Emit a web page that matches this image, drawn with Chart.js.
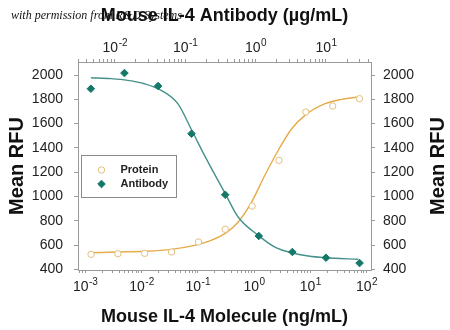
<!DOCTYPE html>
<html>
<head>
<meta charset="utf-8">
<script src="https://cdn.jsdelivr.net/npm/chart.js@4"></script>
<style>
  html, body { margin: 0; padding: 0; background: #fff; }
  #wrap { width: 450px; height: 330px; }
</style>
</head>
<body>
<div id="wrap"><canvas id="chart" width="450" height="330"></canvas></div>
<script>
// measured points
const proteinConc = [0.00127, 0.00381, 0.0114, 0.0343, 0.103, 0.309, 0.926, 2.78, 8.33, 25, 75];
const proteinRFU = [525, 530, 533, 544, 626, 731, 922, 1298, 1696, 1745, 1805];
const antibodyConc = [0.00457, 0.0137, 0.0412, 0.123, 0.370, 1.11, 3.33, 10, 30];
const antibodyRFU = [1887, 2016, 1909, 1517, 1015, 676, 544, 497, 453];

// fitted curves
const proteinFitConc = [0.00127, 0.00378, 0.0113, 0.0336, 0.0877, 0.173, 0.323, 0.524, 0.906, 1.56, 2.70, 4.67, 8.05, 18.3, 36.2, 71.5];
const proteinFitRFU = [538, 544, 550, 566, 599, 640, 703, 791, 955, 1175, 1381, 1558, 1668, 1764, 1800, 1819];
const antibodyFitConc = [0.00458, 0.00883, 0.0152, 0.0264, 0.0454, 0.0785, 0.121, 0.188, 0.366, 0.565, 1.09, 1.88, 3.25, 5.6, 9.7, 28.8];
const antibodyFitRFU = [1978, 1970, 1956, 1928, 1874, 1764, 1558, 1339, 1030, 832, 681, 585, 538, 511, 497, 484];

// tick labels
const rfuTicks = [400, 600, 800, 1000, 1200, 1400, 1600, 1800, 2000];
const ngExponents = [-3, -2, -1, 0, 1, 2];
const ugExponents = [-2, -1, 0, 1];

const PROTEIN_LINE = '#e7ab48';
const PROTEIN_PT = '#e2c07e';
const AB_LINE = '#45918b';
const AB_PT = '#147868';
const AXIS = '#9a9a9a';
const FONT = "'Liberation Sans', Arial, sans-serif";

const toXY = (xs, ys) => xs.map((x, i) => ({ x: x, y: ys[i] }));

function logTicks(scale) {
    const ticks = [];
    const lo = Math.floor(Math.log10(scale.min));
    const hi = Math.ceil(Math.log10(scale.max));
    for (let e = lo; e <= hi; e++) {
        for (let m = 1; m < 10; m++) {
            const v = m * Math.pow(10, e);
            if (v >= scale.min && v <= scale.max) ticks.push({ value: v, major: m === 1 });
        }
    }
    scale.ticks = ticks;
}

function drawPowerLabels(ctx, scale, exps, cy) {
    ctx.save();
    ctx.fillStyle = '#222';
    ctx.textBaseline = 'middle';
    ctx.textAlign = 'left';
    exps.forEach(e => {
        const px = scale.getPixelForValue(Math.pow(10, e));
        const exp = e < 0 ? '-' + (-e) : String(e);
        ctx.font = '14px ' + FONT;
        const wb = ctx.measureText('10').width;
        ctx.font = '10px ' + FONT;
        const we = ctx.measureText(exp).width;
        const x0 = px - (wb + we) / 2;
        ctx.font = '14px ' + FONT;
        ctx.fillText('10', x0, cy);
        ctx.font = '10px ' + FONT;
        ctx.fillText(exp, x0 + wb + 0.5, cy - 5);
    });
    ctx.restore();
}

const extras = {
    id: 'extras',
    afterDraw(chart) {
        const ctx = chart.ctx;
        const area = chart.chartArea;
        drawPowerLabels(ctx, chart.scales.x, ngExponents, area.bottom + 17);
        drawPowerLabels(ctx, chart.scales.x2, ugExponents, area.top - 14);

        // right axis title, read bottom to top like the left one
        ctx.save();
        ctx.translate(chart.scales.y2.right - 12, (area.top + area.bottom) / 2);
        ctx.rotate(-Math.PI / 2);
        ctx.fillStyle = '#111';
        ctx.font = 'bold 20px ' + FONT;
        ctx.textAlign = 'center';
        ctx.textBaseline = 'middle';
        ctx.fillText('Mean RFU', 0, 0);
        ctx.restore();

        // legend box inside the plot
        const lx = area.left + 3.5, ly = area.top + 93.5;
        ctx.save();
        ctx.strokeStyle = '#8a8a8a';
        ctx.lineWidth = 1;
        ctx.strokeRect(lx, ly, 95, 42);
        ctx.beginPath();
        ctx.arc(lx + 20, ly + 14.5, 3.2, 0, Math.PI * 2);
        ctx.fillStyle = '#fff';
        ctx.fill();
        ctx.strokeStyle = PROTEIN_PT;
        ctx.stroke();
        ctx.fillStyle = AB_PT;
        ctx.strokeStyle = AB_PT;
        Chart.helpers.drawPoint(ctx, { pointStyle: 'rectRot', radius: 3.8, borderWidth: 1 }, lx + 20, ly + 28.5);
        ctx.fillStyle = '#222';
        ctx.font = 'bold 11px ' + FONT;
        ctx.textBaseline = 'middle';
        ctx.fillText('Protein', lx + 39, ly + 14);
        ctx.fillText('Antibody', lx + 39, ly + 28);

        // watermark
        ctx.font = "italic 12px 'Liberation Serif', 'Times New Roman', serif";
        ctx.textBaseline = 'alphabetic';
        ctx.fillStyle = '#111';
        ctx.fillText('with permission from R&D Systems', 11, 18.5);
        ctx.restore();
    }
};

const gridOpts = { drawOnChartArea: false, drawTicks: true, tickLength: 3, color: AXIS };
const borderOpts = { display: true, color: AXIS, width: 1 };
const rfuTickOpts = pad => ({
    color: '#222', padding: pad, font: { family: FONT, size: 14 },
    callback: v => String(v)
});

new Chart(document.getElementById('chart'), {
    type: 'scatter',
    data: {
        datasets: [
            {
                label: 'Antibody',
                data: toXY(antibodyConc, antibodyRFU),
                xAxisID: 'x2', yAxisID: 'y',
                pointStyle: 'rectRot', pointRadius: 3.8,
                backgroundColor: AB_PT, borderColor: AB_PT, borderWidth: 1
            },
            {
                label: 'Protein',
                data: toXY(proteinConc, proteinRFU),
                xAxisID: 'x', yAxisID: 'y',
                pointStyle: 'circle', pointRadius: 3.2,
                backgroundColor: '#fff', borderColor: PROTEIN_PT, borderWidth: 1
            },
            {
                label: 'Antibody fit',
                data: toXY(antibodyFitConc, antibodyFitRFU),
                xAxisID: 'x2', yAxisID: 'y',
                showLine: true, pointRadius: 0,
                borderColor: AB_LINE, borderWidth: 1.4,
                cubicInterpolationMode: 'monotone'
            },
            {
                label: 'Protein fit',
                data: toXY(proteinFitConc, proteinFitRFU),
                xAxisID: 'x', yAxisID: 'y',
                showLine: true, pointRadius: 0,
                borderColor: PROTEIN_LINE, borderWidth: 1.4,
                cubicInterpolationMode: 'monotone'
            }
        ]
    },
    options: {
        responsive: false,
        animation: false,
        layout: { padding: 0 },
        plugins: {
            legend: { display: false },
            tooltip: { enabled: false }
        },
        scales: {
            x: {
                type: 'logarithmic', position: 'bottom',
                min: 0.000745, max: 120,
                afterBuildTicks: logTicks,
                afterFit: s => { s.height = 60; },
                ticks: { display: false },
                grid: gridOpts, border: borderOpts,
                title: {
                    display: true, text: 'Mouse IL-4 Molecule (ng/mL)',
                    color: '#111', font: { family: FONT, size: 18, weight: 'bold' },
                    padding: { top: 0, bottom: 2.5 }
                }
            },
            x2: {
                type: 'logarithmic', position: 'top',
                min: 0.0030, max: 43.6,
                afterBuildTicks: logTicks,
                afterFit: s => { s.height = 62; },
                ticks: { display: false },
                grid: gridOpts, border: borderOpts,
                title: {
                    display: true, text: 'Mouse IL-4 Antibody (\u00b5g/mL)',
                    color: '#111', font: { family: FONT, size: 18, weight: 'bold' },
                    padding: { top: 5, bottom: 0 }
                }
            },
            y: {
                type: 'linear', position: 'left',
                min: 396, max: 2107,
                afterBuildTicks: s => { s.ticks = rfuTicks.map(v => ({ value: v })); },
                afterFit: s => { s.width = 78; },
                ticks: rfuTickOpts(11),
                grid: { drawOnChartArea: false, drawTicks: true, tickLength: 4, color: AXIS },
                border: borderOpts,
                title: {
                    display: true, text: 'Mean RFU',
                    color: '#111', font: { family: FONT, size: 20, weight: 'bold' },
                    padding: { top: 5.5, bottom: 0 }
                }
            },
            y2: {
                type: 'linear', position: 'right',
                min: 396, max: 2107,
                afterBuildTicks: s => { s.ticks = rfuTicks.map(v => ({ value: v })); },
                afterFit: s => { s.width = 79; },
                ticks: rfuTickOpts(8),
                grid: { drawOnChartArea: false, drawTicks: true, tickLength: 4, color: AXIS },
                border: borderOpts,
                title: { display: false }
            }
        }
    },
    plugins: [extras]
});
</script>
</body>
</html>
